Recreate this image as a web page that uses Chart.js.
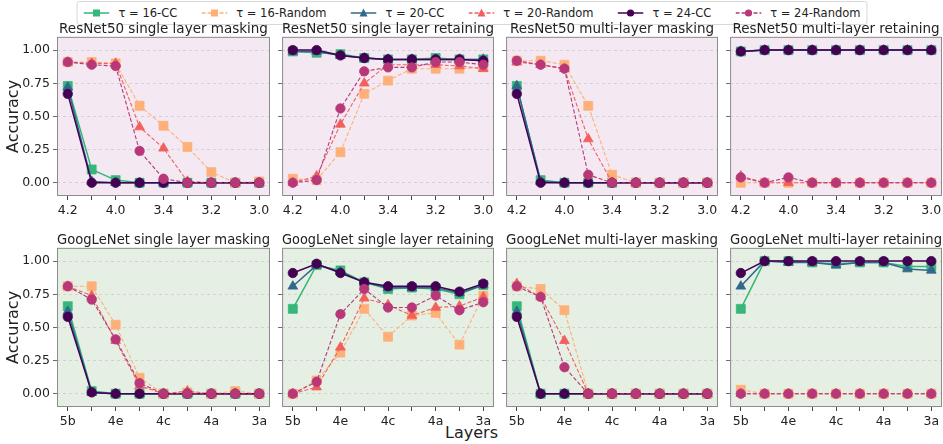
<!DOCTYPE html>
<html lang="en">
<head>
<meta charset="UTF-8">
<title>Layer masking / retaining accuracy</title>
<script src="https://cdn.jsdelivr.net/npm/chart.js"></script>
<style>
  body { margin: 0; width: 943px; height: 444px; background: #fff; position: relative; overflow: hidden;
         font-family: "DejaVu Sans", sans-serif; color: #222; }
  canvas { position: absolute; }
  #legend { position: absolute; left: 472px; transform: translateX(-50%); top: 1px; height: 24px; box-sizing: border-box;
            border: 1px solid #d8d8d8; border-radius: 3px; background: #fff;
            display: flex; align-items: center; padding: 0 6px; gap: 24px; font-size: 11.5px; }
  #legend .item { display: flex; align-items: center; gap: 9px; white-space: nowrap; }
  #xlabel { position: absolute; left: 0; width: 943px; top: 423px; text-align: center; font-size: 16px; }
</style>
</head>
<body>
<div id="legend"></div>
<div id="xlabel">Layers</div>
<script>
  // x categories
  const RESNET_LAYERS = ['4.2', '4.1', '4.0', '3.5', '3.4', '3.3', '3.2', '3.1', '3.0'];
  const GOOGLENET_LAYERS = ['5b', '5a', '4e', '4d', '4c', '4b', '4a', '3b', '3a'];
  const Y_TICKS = [0, 0.25, 0.5, 0.75, 1.0];

  // series order in every panel: 16-CC, 16-Random, 20-CC, 20-Random, 24-CC, 24-Random
  const resnetSingleMask = [
    [0.73, 0.10, 0.02, 0, 0, 0, 0, 0, 0],
    [0.91, 0.91, 0.90, 0.58, 0.43, 0.27, 0.08, 0.00, 0.01],
    [0.72, 0.01, 0, 0, 0, 0, 0, 0, 0],
    [0.91, 0.90, 0.90, 0.42, 0.26, 0.01, 0, 0, 0],
    [0.67, 0, 0, 0, 0, 0, 0, 0, 0],
    [0.91, 0.89, 0.88, 0.24, 0.03, 0, 0, 0, 0]
  ];
  const resnetSingleRetain = [
    [0.99, 0.98, 0.97, 0.94, 0.93, 0.93, 0.94, 0.93, 0.93],
    [0.03, 0.02, 0.23, 0.67, 0.77, 0.86, 0.86, 0.86, 0.87],
    [0.99, 0.99, 0.96, 0.94, 0.93, 0.93, 0.93, 0.93, 0.93],
    [0.00, 0.05, 0.44, 0.75, 0.89, 0.89, 0.89, 0.88, 0.86],
    [1.00, 1.00, 0.96, 0.94, 0.93, 0.93, 0.93, 0.93, 0.92],
    [0.00, 0.02, 0.56, 0.84, 0.87, 0.87, 0.91, 0.91, 0.89]
  ];
  const resnetMultiMask = [
    [0.73, 0.02, 0, 0, 0, 0, 0, 0, 0],
    [0.92, 0.92, 0.89, 0.58, 0.06, 0, 0, 0, 0],
    [0.73, 0.01, 0, 0, 0, 0, 0, 0, 0],
    [0.91, 0.89, 0.86, 0.33, 0, 0, 0, 0, 0],
    [0.67, 0, 0, 0, 0, 0, 0, 0, 0],
    [0.92, 0.89, 0.86, 0.06, 0, 0, 0, 0, 0]
  ];
  const resnetMultiRetain = [
    [0.99, 1, 1, 1, 1, 1, 1, 1, 1],
    [0.00, 0, 0, 0, 0, 0, 0, 0, 0],
    [0.99, 1, 1, 1, 1, 1, 1, 1, 1],
    [0.05, 0, 0, 0, 0, 0, 0, 0, 0],
    [0.99, 1, 1, 1, 1, 1, 1, 1, 1],
    [0.04, 0, 0.04, 0, 0, 0, 0, 0, 0]
  ];
  const googleSingleMask = [
    [0.66, 0.02, 0, 0, 0, 0, 0, 0, 0],
    [0.81, 0.81, 0.52, 0.12, 0, 0.01, 0, 0.02, 0],
    [0.62, 0.01, 0, 0, 0, 0, 0, 0, 0],
    [0.81, 0.74, 0.40, 0.06, 0, 0.02, 0, 0, 0],
    [0.58, 0.01, 0, 0, 0, 0, 0, 0, 0],
    [0.81, 0.71, 0.41, 0.08, 0, 0, 0, 0, 0]
  ];
  const googleSingleRetain = [
    [0.64, 0.97, 0.93, 0.84, 0.79, 0.80, 0.79, 0.75, 0.82],
    [0.00, 0.10, 0.31, 0.64, 0.43, 0.59, 0.61, 0.37, 0.74],
    [0.81, 0.97, 0.92, 0.84, 0.80, 0.80, 0.80, 0.76, 0.82],
    [0.00, 0.05, 0.35, 0.72, 0.67, 0.59, 0.65, 0.66, 0.73],
    [0.91, 0.98, 0.91, 0.84, 0.81, 0.81, 0.81, 0.77, 0.83],
    [0.00, 0.09, 0.60, 0.79, 0.65, 0.65, 0.74, 0.63, 0.69]
  ];
  const googleMultiMask = [
    [0.66, 0, 0, 0, 0, 0, 0, 0, 0],
    [0.81, 0.79, 0.63, 0, 0, 0, 0, 0, 0],
    [0.62, 0, 0, 0, 0, 0, 0, 0, 0],
    [0.83, 0.73, 0.40, 0, 0, 0, 0, 0, 0],
    [0.58, 0, 0, 0, 0, 0, 0, 0, 0],
    [0.81, 0.73, 0.20, 0, 0, 0, 0, 0, 0]
  ];
  const googleMultiRetain = [
    [0.64, 1.00, 1.00, 0.99, 0.98, 0.99, 0.99, 0.96, 0.96],
    [0.03, 0, 0, 0, 0, 0, 0, 0, 0],
    [0.81, 1.00, 0.99, 0.99, 0.97, 0.99, 0.99, 0.94, 0.93],
    [0.00, 0, 0, 0, 0, 0, 0, 0, 0],
    [0.91, 1.00, 1.00, 1.00, 1.00, 1.00, 1.00, 1.00, 1.00],
    [0.00, 0, 0, 0, 0, 0, 0, 0, 0]
  ];

  const SERIES = [
    { label: 'τ = 16-CC',     color: '#35b779', shape: 'rect',     random: false },
    { label: 'τ = 16-Random', color: '#feb078', shape: 'rect',     random: true },
    { label: 'τ = 20-CC',     color: '#31688e', shape: 'triangle', random: false },
    { label: 'τ = 20-Random', color: '#f1605d', shape: 'triangle', random: true },
    { label: 'τ = 24-CC',     color: '#440154', shape: 'circle',   random: false },
    { label: 'τ = 24-Random', color: '#b73779', shape: 'circle',   random: true }
  ];
  const RADIUS = { rect: 6.3, triangle: 5.6, circle: 4.7 };

  const panels = [
    { title: 'ResNet50 single layer masking',    labels: RESNET_LAYERS,    data: resnetSingleMask },
    { title: 'ResNet50 single layer retaining',  labels: RESNET_LAYERS,    data: resnetSingleRetain },
    { title: 'ResNet50 multi-layer masking',     labels: RESNET_LAYERS,    data: resnetMultiMask },
    { title: 'ResNet50 multi-layer retaining',   labels: RESNET_LAYERS,    data: resnetMultiRetain },
    { title: 'GoogLeNet single layer masking',   labels: GOOGLENET_LAYERS, data: googleSingleMask },
    { title: 'GoogLeNet single layer retaining', labels: GOOGLENET_LAYERS, data: googleSingleRetain },
    { title: 'GoogLeNet multi-layer masking',    labels: GOOGLENET_LAYERS, data: googleMultiMask },
    { title: 'GoogLeNet multi-layer retaining',  labels: GOOGLENET_LAYERS, data: googleMultiRetain }
  ];

  // legend (matplotlib style handle: line + marker)
  const legend = document.getElementById('legend');
  SERIES.forEach(s => {
    let mark;
    if (s.shape === 'rect') mark = `<rect x="9.5" y="2.5" width="7" height="7" fill="${s.color}"/>`;
    else if (s.shape === 'triangle') mark = `<polygon points="13,1.5 17,9.5 9,9.5" fill="${s.color}"/>`;
    else mark = `<circle cx="13" cy="6" r="3.6" fill="${s.color}"/>`;
    const dash = s.random ? 'stroke-dasharray="4,2"' : '';
    const item = document.createElement('span');
    item.className = 'item';
    item.innerHTML = `<svg width="26" height="12"><line x1="0" y1="6" x2="26" y2="6" stroke="${s.color}" stroke-width="1.5" ${dash}/>${mark}</svg><span>${s.label}</span>`;
    legend.appendChild(item);
  });

  const PLOT_LEFT = [57, 281, 505, 729];
  const PLOT_TOP = [37, 248];
  const PLOT_W = 213, PLOT_H = 159;
  const TITLE_H = 15, X_H = 22, PAD_T = 2, PAD_R = 14, PAD_B = 2;
  const BG = ['#f4e9f2', '#e6efe3'];

  const frame = {
    id: 'frame',
    beforeDraw(chart, args, opts) {
      const a = chart.chartArea, ctx = chart.ctx;
      ctx.save();
      ctx.fillStyle = opts.bg;
      ctx.fillRect(a.left, a.top, a.right - a.left, a.bottom - a.top);
      ctx.restore();
    },
    afterDraw(chart) {
      const a = chart.chartArea, ctx = chart.ctx;
      ctx.save();
      ctx.strokeStyle = '#8c8c8c';
      ctx.lineWidth = 1;
      ctx.strokeRect(a.left + 0.5, a.top + 0.5, a.right - a.left - 1, a.bottom - a.top - 1);
      ctx.restore();
    }
  };

  panels.forEach((p, i) => {
    const col = i % 4, row = Math.floor(i / 4);
    const yW = col === 0 ? 57 : 6;
    const cv = document.createElement('canvas');
    cv.width = yW + PLOT_W + PAD_R;
    cv.height = PAD_T + TITLE_H + PLOT_H + X_H + PAD_B;
    cv.style.left = (PLOT_LEFT[col] - yW) + 'px';
    cv.style.top = (PLOT_TOP[row] - TITLE_H - PAD_T) + 'px';
    document.body.appendChild(cv);

    const datasets = SERIES.map((s, k) => ({
      label: s.label,
      data: p.data[k].map((v, j) => ({ x: j, y: v })),
      borderColor: s.color,
      backgroundColor: s.color,
      borderWidth: s.random ? 1.1 : 1.5,
      borderDash: s.random ? [4, 2] : [],
      pointStyle: s.shape,
      pointRadius: RADIUS[s.shape],
      pointBorderWidth: 0.8,
      pointBorderColor: s.color,
      pointBackgroundColor: s.color,
      order: SERIES.length - k
    }));

    new Chart(cv, {
      type: 'line',
      data: { datasets },
      plugins: [frame],
      options: {
        responsive: false,
        animation: false,
        layout: { padding: { top: PAD_T, right: PAD_R, bottom: PAD_B, left: 0 } },
        plugins: {
          legend: { display: false },
          tooltip: { enabled: false },
          frame: { bg: BG[row] },
          title: {
            display: true, text: p.title, fullSize: false, color: '#222',
            font: { family: 'DejaVu Sans', size: 13.5, weight: 'normal', lineHeight: 1.1 },
            padding: { top: 0, bottom: 0 }
          }
        },
        scales: {
          x: {
            type: 'linear', min: -0.45, max: 8.45,
            afterBuildTicks: s => { s.ticks = p.labels.map((_, j) => ({ value: j })); },
            afterFit: s => { s.height = X_H; },
            grid: { drawOnChartArea: false, tickLength: 4, tickColor: '#444' },
            border: { display: false },
            ticks: {
              autoSkip: false, maxRotation: 0, padding: 3, color: '#222',
              font: { family: 'DejaVu Sans', size: 12.5 },
              callback: v => (v % 2 === 0 ? p.labels[v] : '')
            }
          },
          y: {
            min: -0.1, max: 1.1,
            afterBuildTicks: s => { s.ticks = Y_TICKS.map(v => ({ value: v })); },
            afterFit: s => { s.width = yW; },
            grid: { color: '#cccccc', lineWidth: 0.8, tickLength: 4, tickColor: '#444' },
            border: { display: false, dash: [3, 3] },
            ticks: {
              display: col === 0, padding: 3, color: '#222',
              font: { family: 'DejaVu Sans', size: 12.5 },
              callback: v => v.toFixed(2)
            },
            title: {
              display: col === 0, text: 'Accuracy', color: '#222',
              font: { family: 'DejaVu Sans', size: 16 }, padding: { top: 4, bottom: 4 }
            }
          }
        }
      }
    });
  });
</script>
</body>
</html>
